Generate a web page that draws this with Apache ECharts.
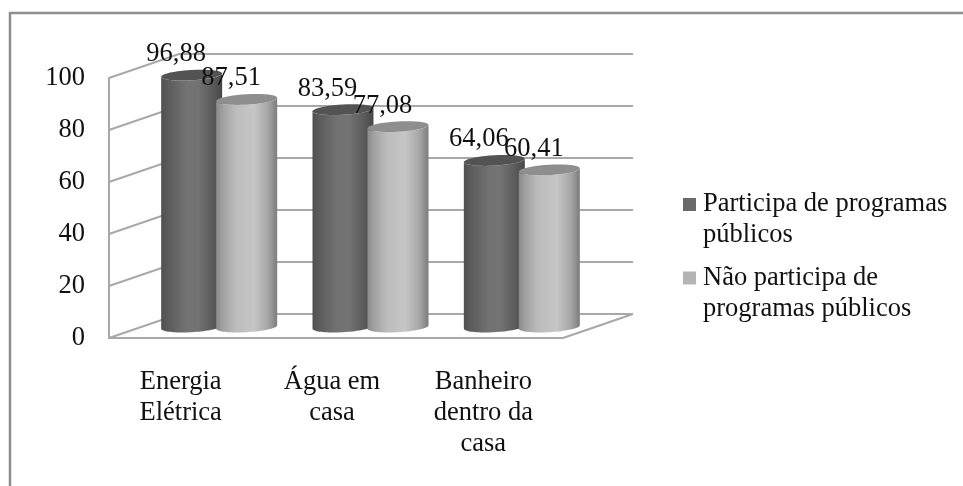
<!DOCTYPE html>
<html>
<head>
<meta charset="utf-8">
<style>
  html, body { margin: 0; padding: 0; background: #fff; }
  #chart { width: 963px; height: 486px; }
</style>
<script src="https://cdn.jsdelivr.net/npm/echarts@6/dist/echarts.min.js"></script>
</head>
<body>
<div id="chart"></div>
<script>
// Valores do gráfico
const categories = ['Energia\nElétrica', 'Água em\ncasa', 'Banheiro\ndentro da\ncasa'];
const participa = [96.88, 83.59, 64.06];
const naoParticipa = [87.51, 77.08, 60.41];
const yTicks = [0, 20, 40, 60, 80, 100];
const seriesNames = ['Participa de programas públicos', 'Não participa de programas públicos'];
const legendLines = {
  'Participa de programas públicos': 'Participa de programas\npúblicos',
  'Não participa de programas públicos': 'Não participa de\nprogramas públicos'
};

// Aparência da perspectiva e dos cilindros
const FONT = '"Liberation Serif", "Times New Roman", serif';
const WALL = '#a8a8a8';
const DEPTH_X = 70, DEPTH_Y = 24;
const BAR_RX = 30.5, BAR_RY = 5.2, BAR_OFFSET = 27.5, TILT = -0.055;
const darkStops = [[0, '#505050'], [0.12, '#5c5c5c'], [0.42, '#737373'], [0.6, '#737373'], [0.85, '#5a5a5a'], [1, '#474747']];
const lightStops = [[0, '#8a8a8a'], [0.1, '#a0a0a0'], [0.32, '#bcbcbc'], [0.62, '#c6c6c6'], [0.85, '#a6a6a6'], [1, '#7c7c7c']];

const gradient = stops => new echarts.graphic.LinearGradient(0, 0, 1, 0,
  stops.map(s => ({ offset: s[0], color: s[1] })));

// Pontos de um arco de elipse inclinada, de t0 a t1 (radianos)
function arc(cx, cy, t0, t1) {
  const pts = [];
  for (let i = 0; i <= 40; i++) {
    const t = t0 + (t1 - t0) * i / 40;
    const ex = BAR_RX * Math.cos(t), ey = BAR_RY * Math.sin(t);
    pts.push([cx + ex, cy + ey + ex * TILT]);
  }
  return pts;
}

// Um cilindro: corpo, tampa e rótulo do valor
function cylinder(offset, stops, topColor) {
  return function (params, api) {
    const value = api.value(1);
    const top = api.coord([api.value(0), value]);
    const base = api.coord([api.value(0), 0]);
    const cx = top[0] + DEPTH_X / 2 + offset - 0.5;
    const topY = top[1] - DEPTH_Y / 2 + 1;
    const baseY = base[1] - DEPTH_Y / 2 + 1;
    const outline = arc(cx, baseY, Math.PI, 0).concat(arc(cx, topY, 0, Math.PI));
    const cap = arc(cx, topY, 0, Math.PI * 2);
    return {
      type: 'group',
      children: [
        { type: 'polygon', shape: { points: outline }, style: { fill: gradient(stops) } },
        { type: 'polygon', shape: { points: cap }, style: { fill: topColor } },
        {
          type: 'text', z2: 100,
          style: {
            x: cx - 15.5, y: topY - 21,
            text: value.toFixed(2).replace('.', ','),
            font: '26.5px ' + FONT, fill: '#111',
            align: 'center', verticalAlign: 'middle'
          }
        }
      ]
    };
  };
}

// Linhas de grade nas paredes e borda direita do piso
function wall(params, api) {
  const v = api.value(1);
  const p = api.coord([0, v]);
  const left = params.coordSys.x;
  const right = left + params.coordSys.width;
  const y = p[1];
  const children = [{
    type: 'polyline',
    shape: { points: [[left, y], [left + DEPTH_X, y - DEPTH_Y], [right + DEPTH_X, y - DEPTH_Y]] },
    style: { stroke: WALL, lineWidth: 2, fill: 'none' }
  }];
  if (v === 0) {
    children.push({
      type: 'line',
      shape: { x1: right, y1: y, x2: right + DEPTH_X, y2: y - DEPTH_Y },
      style: { stroke: WALL, lineWidth: 2 }
    });
  }
  return { type: 'group', children };
}

const toPoints = values => values.map((v, i) => [i, v]);

const chart = echarts.init(document.getElementById('chart'), null, { renderer: 'canvas' });
chart.setOption({
  animation: false,
  backgroundColor: '#ffffff',
  grid: { left: 109, top: 78, width: 454, height: 260 },
  xAxis: {
    type: 'category',
    data: categories,
    axisTick: { show: false },
    axisLine: { lineStyle: { color: WALL, width: 2 } },
    axisLabel: {
      fontFamily: FONT, fontSize: 26.5, lineHeight: 31, color: '#111',
      margin: 29, padding: [0, 8, 0, 0], interval: 0
    }
  },
  yAxis: {
    type: 'value', min: 0, max: 100, interval: 20,
    splitLine: { show: false },
    axisTick: { show: false },
    axisLine: { show: true, lineStyle: { color: WALL, width: 2 } },
    axisLabel: { fontFamily: FONT, fontSize: 26.5, color: '#111', margin: 24 }
  },
  legend: {
    orient: 'vertical', left: 683, top: 189, padding: 0,
    itemWidth: 15, itemHeight: 44, itemGap: 11.5,
    selectedMode: false,
    formatter: name => legendLines[name],
    textStyle: { fontFamily: FONT, fontSize: 26.5, lineHeight: 31, color: '#111' },
    data: [
      { name: seriesNames[0], icon: 'path://M0 0H13V13H0Z M15 44h0', itemStyle: { color: '#6a6a6a' } },
      { name: seriesNames[1], icon: 'path://M0 0H13V13H0Z M15 44h0', itemStyle: { color: '#b4b4b4' } }
    ]
  },
  graphic: [
    { type: 'line', shape: { x1: 9, y1: 13, x2: 963, y2: 13 }, style: { stroke: '#8f8f8f', lineWidth: 2.5 }, silent: true },
    { type: 'line', shape: { x1: 10, y1: 12, x2: 10, y2: 486 }, style: { stroke: '#8f8f8f', lineWidth: 2.5 }, silent: true }
  ],
  series: [
    { type: 'custom', name: 'grade', z: 1, silent: true, renderItem: wall, encode: { x: 0, y: 1 },
      data: yTicks.map(v => [0, v]) },
    { type: 'custom', name: seriesNames[0], z: 2, itemStyle: { color: '#6a6a6a' }, encode: { x: 0, y: 1 },
      renderItem: cylinder(-BAR_OFFSET, darkStops, '#535353'), data: toPoints(participa) },
    { type: 'custom', name: seriesNames[1], z: 2, itemStyle: { color: '#b4b4b4' }, encode: { x: 0, y: 1 },
      renderItem: cylinder(BAR_OFFSET, lightStops, '#8e8e8e'), data: toPoints(naoParticipa) }
  ]
});
</script>
</body>
</html>
